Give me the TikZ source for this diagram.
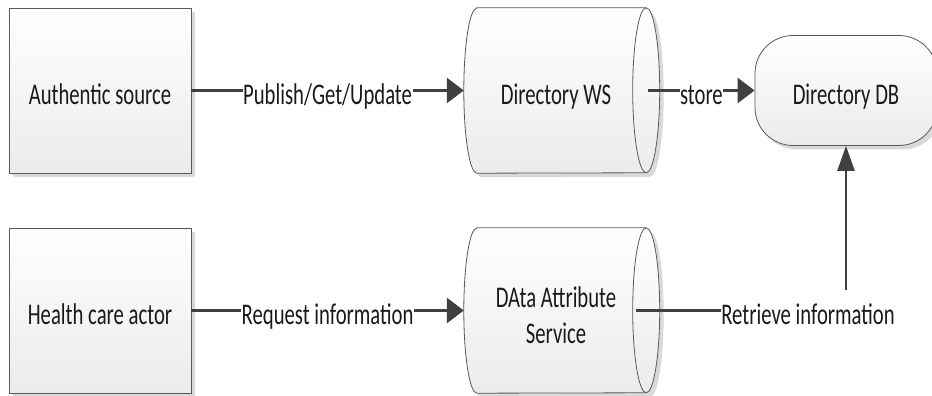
\documentclass[tikz,border=0pt]{standalone}
\usepackage{fontspec}
\setmainfont[FakeStretch=0.69]{Carlito}
\usetikzlibrary{arrows.meta,shadows,backgrounds}
\definecolor{bordercol}{HTML}{595959}
\definecolor{conncol}{HTML}{404040}
\definecolor{shadowcol}{HTML}{D9D9D9}
\definecolor{fillbot}{HTML}{EBEBEB}
\definecolor{txtcol}{HTML}{1A1A1A}
\tikzset{
  shp/.style={draw=bordercol, line width=0.8pt, top color=white, bottom color=fillbot,
    drop shadow={shadow xshift=4pt, shadow yshift=-4pt, fill=shadowcol, opacity=1}},
  txt/.style={font=\fontsize{30}{36}\selectfont, text=txtcol, inner sep=0pt,
    text height=34pt, text depth=6pt},
  boxst/.style={shp, txt, minimum width=182pt, minimum height=165pt},
  cylst/.style={txt, minimum width=184pt, minimum height=165pt},
  dbst/.style={shp, txt, rounded corners=38pt, minimum width=182pt, minimum height=110pt},
  conn/.style={draw=conncol, line width=3pt, -{Triangle[length=17pt,width=25pt]}},
  connv/.style={draw=conncol, line width=2.5pt, -{Triangle[length=25pt,width=17pt]}},
  lbl/.style={txt, fill=white, inner xsep=0.5pt, inner ysep=0pt},
}
\begin{document}
\begin{tikzpicture}[x=1pt,y=1pt]
\useasboundingbox (0,0) rectangle (932,396);
% nodes
\node[boxst] (as) at (100,305.5) {Authentic source};
\node[boxst] (hc) at (100,85.5) {Health care actor};
\node[cylst] (ws) at (556,305.5) {Directory WS};
\node[cylst, align=center, text height=, text depth=] (das) at (556,85.5) {\rule{0pt}{31pt}DAta Attribute\\Service};
\node[dbst] (db) at (846,305.5) {Directory DB};
% cylinder outlines behind text
\begin{scope}[on background layer]
\foreach \n in {ws,das}{
  \path[shp] ([xshift=13pt]\n.north west) -- ([xshift=-2pt]\n.north east)
     arc[start angle=90, end angle=-90, x radius=13.5pt, y radius=82.5pt]
     -- ([xshift=13pt]\n.south west)
     arc[start angle=270, end angle=90, x radius=13pt, y radius=82.5pt] -- cycle;
  \draw[draw=bordercol, line width=0.8pt] ([xshift=-2pt]\n.north east)
     arc[start angle=90, end angle=270, x radius=13.5pt, y radius=82.5pt];
}
\end{scope}
% connectors
\draw[conn] (as.east) -- node[lbl] {Publish/Get/Update} (ws.west);
\draw[conn] (hc.east) -- node[lbl] {Request information} (das.west);
\draw[conn] (ws.east) -- node[lbl] {store} (db.west);
\draw[connv, shorten <=-12pt] (das.east) -| node[lbl, pos=0.5, xshift=-38pt] {Retrieve information} (db.south);
\end{tikzpicture}
\end{document}
